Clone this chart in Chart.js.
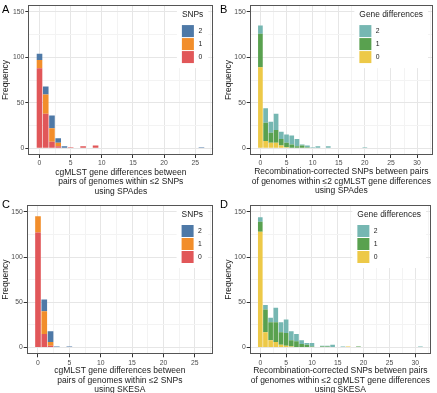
<!DOCTYPE html>
<html><head><meta charset="utf-8">
<script src="https://cdn.jsdelivr.net/npm/chart.js@4"></script>
<style>
html,body{margin:0;padding:0;background:#fff;}
#wrap{position:relative;width:437px;height:393px;overflow:hidden;background:#fff;}
.panel{position:absolute;}
.letter{position:absolute;font-family:'Liberation Sans',Arial,sans-serif;font-size:11px;color:#000;line-height:11px;}
</style></head><body>
<div id="wrap">
  <div class="panel" style="left:0;top:0;"><canvas id="cA" width="219" height="200"></canvas></div>
  <div class="panel" style="left:218px;top:0;"><canvas id="cB" width="219" height="200"></canvas></div>
  <div class="panel" style="left:0;top:195px;"><canvas id="cC" width="219" height="200"></canvas></div>
  <div class="panel" style="left:218px;top:195px;"><canvas id="cD" width="219" height="200"></canvas></div>
  <div class="letter" style="left:2px;top:4px;">A</div>
  <div class="letter" style="left:220px;top:4px;">B</div>
  <div class="letter" style="left:2px;top:199px;">C</div>
  <div class="letter" style="left:220px;top:199px;">D</div>
</div>
<script>
// ---------- data ----------
const binsCg  = [0,1,2,3,4,5,6,7,8,9,10,11,12,13,14,15,16,17,18,19,20,21,22,23,24,25,26];
const binsSnp = [0,1,2,3,4,5,6,7,8,9,10,11,12,13,14,15,16,17,18,19,20,21,22,23,24,25,26,27,28,29,30,31];

const snpLevels  = ['0','1','2'];
const geneLevels = ['0','1','2'];

// Panel A: cgMLST gene differences (SPAdes), stacked by SNPs
const aSnp0 = [88,38,7,2,0,1,0,2,0,3,0,0,0,0,0,0,0,0,0,0,0,0,0,0,0,0,0];
const aSnp1 = [9,21,15,4,0,0,0,0,0,0,0,0,0,0,0,0,0,0,0,0,0,0,0,0,0,0,0];
const aSnp2 = [7,9,14,5,2,0,0,0,0,0,0,0,0,0,0,0,0,0,0,0,0,0,0,0,0,0,1];

// Panel B: recombination-corrected SNPs (SPAdes), stacked by gene differences
const bGene0 = [89,8,6,6,3,1,0,0,0,0,0,0,0,0,0,0,0,0,0,0,0,0,0,0,0,0,0,0,0,0,0,0];
const bGene1 = [37,20,11,14,7,5,4,2,3,1,0,0,0,0,0,0,0,0,0,0,0,0,0,0,0,0,0,0,0,0,0,0];
const bGene2 = [9,16,12,18,8,9,10,8,1,2,1,2,0,2,0,0,0,0,0,0,1,0,0,0,0,0,0,0,0,0,0,0];

// Panel C: cgMLST gene differences (SKESA), stacked by SNPs
const cSnp0 = [127,15,2,0,0,0,0,0,0,0,0,0,0,0,0,0,0,0,0,0,0,0,0,0,0,0,0];
const cSnp1 = [18,25,4,0,0,0,0,0,0,0,0,0,0,0,0,0,0,0,0,0,0,0,0,0,0,0,0];
const cSnp2 = [0,13,12,1,0,1,0,0,0,0,0,0,0,0,0,0,0,0,0,0,0,0,0,0,0,0,0];

// Panel D: recombination-corrected SNPs (SKESA), stacked by gene differences
const dGene0 = [128,17,8,6,3,2,1,0,0,0,0,0,0,0,0,0,0,1,0,0,0,0,0,0,0,0,0,0,0,0,0,0];
const dGene1 = [11,25,20,22,14,14,7,7,4,3,1,0,1,1,0,0,0,0,0,1,0,0,0,0,0,0,0,0,0,0,0,0];
const dGene2 = [5,5,5,16,11,15,10,8,4,2,4,0,1,1,3,0,1,0,0,0,0,0,0,0,0,0,0,0,0,0,0,1];

// tick values
const cgMajor  = [0,5,10,15,20,25];
const cgMinor  = [2.5,7.5,12.5,17.5,22.5,27.5];
const snpMajor = [0,5,10,15,20,25,30];
const snpMinor = [2.5,7.5,12.5,17.5,22.5,27.5,32.5];
const yMajor   = [0,50,100,150];
const yMinor   = [25,75,125];

const titleA = ['cgMLST gene differences between','pairs of genomes within \u22642 SNPs','using SPAdes'];
const titleB = ['Recombination-corrected SNPs between pairs','of genomes within \u22642 cgMLST gene differences','using SPAdes'];
const titleC = ['cgMLST gene differences between','pairs of genomes within \u22642 SNPs','using SKESA'];
const titleD = ['Recombination-corrected SNPs between pairs','of genomes within \u22642 cgMLST gene differences','using SKESA'];

// ---------- styles ----------
const FONT = "'Liberation Sans', Arial, Helvetica, sans-serif";
const snpColors  = ['#E15759','#F28E2B','#4E79A7'];
const geneColors = ['#EDC948','#59A14F','#76B7B2'];
const GRID_MAJOR = '#E6E6E6';
const GRID_MINOR = '#F3F3F3';

const insideLegend = {
  id: 'insideLegend',
  afterDatasetsDraw(chart, args, opts) {
    const {ctx, chartArea: ca} = chart;
    ctx.save();
    ctx.font = `${opts.titleSize}px ${FONT}`;
    const tw = ctx.measureText(opts.title).width;
    const key = 12, pitch = 13;
    const left = ca.right - opts.rightGap - tw;
    const titleY = ca.top + 10;
    const keyTop = ca.top + 20;
    const ds = chart.data.datasets.slice().reverse();
    const bottom = keyTop + ds.length * pitch + 4;
    ctx.fillStyle = '#ffffff';
    ctx.fillRect(left - 5, ca.top + 1, tw + 10, bottom - ca.top - 1);
    ctx.fillStyle = '#1a1a1a';
    ctx.textAlign = 'left';
    ctx.textBaseline = 'middle';
    ctx.fillText(opts.title, left, titleY);
    ctx.font = `${opts.labelSize}px ${FONT}`;
    ds.forEach((d, i) => {
      const y = keyTop + i * pitch;
      ctx.fillStyle = d.backgroundColor;
      ctx.fillRect(left, y, key, key);
      ctx.fillStyle = '#1a1a1a';
      ctx.fillText(d.label, left + key + 4.5, y + key / 2 + 0.5);
    });
    ctx.restore();
  },
  afterDraw(chart) {
    const {ctx, chartArea: ca} = chart;
    ctx.save();
    ctx.strokeStyle = '#555555';
    ctx.lineWidth = 1;
    ctx.strokeRect(Math.round(ca.left) + 0.5, Math.round(ca.top) + 0.5,
                   Math.round(ca.right) - Math.round(ca.left) - 1, Math.round(ca.bottom) - Math.round(ca.top) - 1);
    ctx.restore();
  }
};

function tickList(major, minor) {
  return major.map(v => ({value: v, isMajor: true}))
    .concat(minor.map(v => ({value: v, isMajor: false})))
    .sort((a, b) => a.value - b.value);
}

function gridOpts() {
  return {
    color: c => (c.tick && c.tick.isMajor) ? GRID_MAJOR : GRID_MINOR,
    lineWidth: 1,
    tickColor: c => (c.tick && c.tick.isMajor) ? '#333333' : 'rgba(0,0,0,0)',
    tickLength: 3,
    drawTicks: true,
    offset: false
  };
}

function makePanel(p) {
  const datasets = p.series.map((s, i) => ({
    label: p.levels[i],
    data: p.bins.map((b, j) => ({x: b, y: s[j]})),
    backgroundColor: p.colors[i],
    borderWidth: 0,
    barPercentage: 0.9,
    categoryPercentage: 1.0
  }));
  new Chart(document.getElementById(p.id), {
    type: 'bar',
    data: { datasets },
    options: {
      responsive: false,
      animation: false,
      devicePixelRatio: 1,
      layout: { padding: p.pad },
      plugins: {
        legend: { display: false },
        tooltip: { enabled: false },
        insideLegend: { title: p.legendTitle, titleSize: 8.4, labelSize: 6.8, rightGap: 10 }
      },
      scales: {
        x: {
          type: 'linear', stacked: true, offset: false,
          min: p.xMin, max: p.xMax,
          afterBuildTicks: ax => { ax.ticks = tickList(p.xMajor, p.xMinor); },
          afterFit: ax => { ax.height = p.xH; },
          grid: gridOpts(),
          border: { display: false },
          ticks: {
            autoSkip: false, maxRotation: 0, padding: 1.5, color: '#4d4d4d',
            font: { family: FONT, size: 6.8 },
            callback: (v, i, t) => t[i].isMajor ? String(v) : ''
          },
          title: {
            display: true, text: p.xTitle, color: '#1a1a1a',
            font: { family: FONT, size: 8.5, lineHeight: 1.12 },
            padding: { top: 0, bottom: p.xTitlePad }
          }
        },
        y: {
          type: 'linear', stacked: true,
          min: -7.5, max: 157.5,
          afterBuildTicks: ax => { ax.ticks = tickList(yMajor, yMinor); },
          afterFit: ax => { ax.width = p.yW; },
          grid: gridOpts(),
          border: { display: false },
          ticks: {
            autoSkip: false, padding: 1, color: '#4d4d4d',
            font: { family: FONT, size: 6.8 },
            callback: (v, i, t) => t[i].isMajor ? String(v) : ''
          },
          title: {
            display: true, text: 'Frequency', color: '#1a1a1a',
            font: { family: FONT, size: 8.5, lineHeight: 1.12 },
            padding: { top: p.yTitlePad, bottom: 0 }
          }
        }
      }
    },
    plugins: [insideLegend]
  });
}

const panels = [
  { id: 'cA', bins: binsCg, series: [aSnp0, aSnp1, aSnp2], levels: snpLevels, colors: snpColors,
    legendTitle: 'SNPs', xMin: -1.8, xMax: 27.9, xMajor: cgMajor, xMinor: cgMinor, xTitle: titleA,
    pad: {left: 0, top: 5, right: 5.7, bottom: 0}, yW: 28.3, xH: 45, xTitlePad: 3.9, yTitlePad: 1.2 },
  { id: 'cB', bins: binsSnp, series: [bGene0, bGene1, bGene2], levels: geneLevels, colors: geneColors,
    legendTitle: 'Gene differences', xMin: -2.05, xMax: 33.05, xMajor: snpMajor, xMinor: snpMinor, xTitle: titleB,
    pad: {left: 0, top: 5, right: 4, bottom: 0}, yW: 31.7, xH: 45, xTitlePad: 4.2, yTitlePad: 6.3 },
  { id: 'cC', bins: binsCg, series: [cSnp0, cSnp1, cSnp2], levels: snpLevels, colors: snpColors,
    legendTitle: 'SNPs', xMin: -1.8, xMax: 27.9, xMajor: cgMajor, xMinor: cgMinor, xTitle: titleC,
    pad: {left: 0, top: 10, right: 6, bottom: 0}, yW: 26.7, xH: 40.7, xTitlePad: 0.5, yTitlePad: 1.2 },
  { id: 'cD', bins: binsSnp, series: [dGene0, dGene1, dGene2], levels: geneLevels, colors: geneColors,
    legendTitle: 'Gene differences', xMin: -2.05, xMax: 33.05, xMajor: snpMajor, xMinor: snpMinor, xTitle: titleD,
    pad: {left: 0, top: 10, right: 6, bottom: 0}, yW: 31.7, xH: 40.7, xTitlePad: 0.5, yTitlePad: 6.3 }
];
panels.forEach(makePanel);
</script>
</body></html>
